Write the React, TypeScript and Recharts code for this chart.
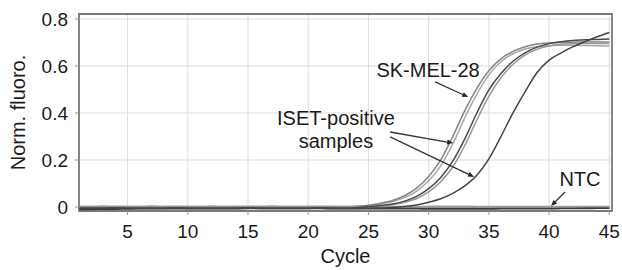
import React from 'react';
import { LineChart, Line, XAxis, YAxis, CartesianGrid, ReferenceLine, ReferenceDot, ReferenceArea, Label } from 'recharts';

const cycles = [1,2,3,4,5,6,7,8,9,10,11,12,13,14,15,16,17,18,19,20,21,22,23,24,25,26,27,28,29,30,31,32,33,34,35,36,37,38,39,40,41,42,43,44,45];

const skMel1 = [0.002,0.002,0.003,0.002,0.002,0.002,0.003,0.002,0.002,0.002,0.002,0.003,0.002,0.002,0.002,0.002,0.003,0.002,0.002,0.002,0.002,0.002,0.002,
  0.003,0.008,0.016,0.028,0.048,0.08,0.13,0.2,0.3,0.41,0.505,0.58,0.63,0.662,0.682,0.693,0.698,0.7,0.701,0.702,0.702,0.702];
const skMel2 = [-0.002,-0.002,-0.001,-0.002,-0.002,-0.002,-0.001,-0.002,-0.002,-0.002,-0.002,-0.001,-0.002,-0.002,-0.002,-0.002,-0.001,-0.002,-0.002,-0.002,-0.002,-0.002,-0.001,
  0.002,0.006,0.013,0.023,0.04,0.068,0.112,0.175,0.268,0.38,0.48,0.562,0.618,0.652,0.672,0.682,0.686,0.688,0.688,0.687,0.686,0.685];
const isetA1 = [-0.004,-0.004,-0.004,-0.003,-0.004,-0.004,-0.004,-0.004,-0.003,-0.004,-0.004,-0.004,-0.004,-0.004,-0.003,-0.004,-0.004,-0.004,-0.004,-0.004,-0.003,-0.004,-0.004,-0.003,
  0.002,0.006,0.013,0.025,0.045,0.078,0.126,0.195,0.29,0.4,0.498,0.568,0.62,0.656,0.68,0.695,0.703,0.708,0.711,0.713,0.715];
const isetA2 = [0,0,0.001,0,0,0,0,0.001,0,0,0,0,0.001,0,0,0,0,0,0.001,0,0,0,0,0,
  0.001,0.004,0.01,0.02,0.036,0.064,0.108,0.17,0.262,0.37,0.472,0.55,0.607,0.646,0.671,0.685,0.692,0.695,0.696,0.696,0.695];
const isetB = [-0.006,-0.006,-0.006,-0.005,-0.006,-0.006,-0.006,-0.006,-0.005,-0.006,-0.006,-0.006,-0.006,-0.006,-0.005,-0.006,-0.006,-0.006,-0.006,-0.006,-0.005,-0.006,-0.006,-0.006,-0.005,-0.004,-0.002,
  0.002,0.009,0.02,0.035,0.058,0.09,0.135,0.205,0.3,0.4,0.49,0.572,0.625,0.656,0.682,0.704,0.724,0.742];
const ntc1 = [-0.009,-0.009,-0.008,-0.008,-0.007,-0.006,-0.006,-0.006,-0.006,-0.006,-0.006,-0.006,-0.006,-0.006,-0.005,-0.005,-0.005,-0.005,-0.005,-0.005,-0.005,-0.006,-0.006,-0.006,-0.006,-0.006,-0.006,-0.006,-0.006,-0.007,-0.007,-0.007,-0.007,-0.007,-0.007,-0.006,-0.006,-0.006,-0.006,-0.006,-0.005,-0.005,-0.005,-0.004,-0.004];
const ntc2 = [0.001,0.001,0.001,0.001,0.001,0.001,0.001,0.001,0.001,0.001,0.001,0.001,0.001,0.001,0.001,0.001,0.001,0.001,0.001,0.001,0.001,0.001,0.001,0.001,0.001,0.001,0.001,0.001,0.002,0.002,0.003,0.003,0.003,0.002,0.002,0.001,0.001,0.001,0.001,0.001,0.001,0.001,0.002,0.002,0.002];

const xTicks = [5,10,15,20,25,30,35,40,45];
const yTicks = [0,0.2,0.4,0.6,0.8];
const xDomain = [0.97, 45.22];
const yDomain = [-0.017, 0.821];

// annotation arrows [fromCycle, fromValue, toCycle, toValue]
const arrows = [
  [30.54, 0.532, 33.28, 0.468],
  [26.8, 0.319, 32.03, 0.272],
  [26.8, 0.298, 33.77, 0.128],
  [41.32, 0.064, 40.16, 0.004],
];
// annotation texts [text, cycle, value(baseline)]
const notes: [string, number, number][] = [
  ['SK-MEL-28', 29.95, 0.553],
  ['ISET-positive', 22.3, 0.349],
  ['samples', 22.3, 0.251],
  ['NTC', 42.56, 0.089],
];

const data = cycles.map((c, i) => ({
  cycle: c,
  skMel1: skMel1[i], skMel2: skMel2[i], isetA1: isetA1[i], isetA2: isetA2[i], isetB: isetB[i], ntc1: ntc1[i], ntc2: ntc2[i],
}));

const FONT = '"Liberation Sans", Arial, Helvetica, sans-serif';

const ArrowShape = (props: any) => {
  const { x1, y1, x2, y2 } = props;
  if ([x1, y1, x2, y2].some((v) => typeof v !== 'number' || isNaN(v))) return null;
  const ang = Math.atan2(y2 - y1, x2 - x1);
  const L = 6, W = 2.5;
  const bx = x2 - L * Math.cos(ang), by = y2 - L * Math.sin(ang);
  const px = -Math.sin(ang) * W, py = Math.cos(ang) * W;
  return (
    <g>
      <line x1={x1} y1={y1} x2={bx} y2={by} stroke="#333" strokeWidth={1.3} />
      <polygon points={`${x2},${y2} ${bx + px},${by + py} ${bx - px},${by - py}`} fill="#222" />
    </g>
  );
};

const makeText = (t: string) => (props: any) => (
  <text x={props.cx} y={props.cy} textAnchor="middle" fontFamily={FONT} fontSize={20} fill="#1a1a1a">{t}</text>
);

export default function App() {
  return (
    <div style={{ width: 614, height: 262, padding: '8px 0 0 8px', overflow: 'visible' }}>
      <style>{'html,body{margin:0;padding:0;overflow:hidden}'}</style>
      <LineChart width={614} height={262} data={data} margin={{ top: 6, right: 10, bottom: 0, left: 0 }}>
        <CartesianGrid stroke="#dcdcdc" strokeWidth={1} vertical horizontal />
        <XAxis dataKey="cycle" type="number" domain={xDomain} ticks={xTicks} allowDataOverflow height={59}
          tick={{ fontSize: 19, fill: '#1a1a1a', fontFamily: FONT }} tickSize={4} tickMargin={10}
          tickLine={{ stroke: '#999' }} axisLine={false}>
          <Label value="Cycle" position="insideBottom" offset={7} style={{ fontSize: 20, fill: '#1a1a1a', fontFamily: FONT }} />
        </XAxis>
        <YAxis type="number" domain={yDomain} ticks={yTicks} allowDataOverflow width={71}
          tick={{ fontSize: 19, fill: '#1a1a1a', fontFamily: FONT }} tickSize={4} tickMargin={7}
          tickLine={{ stroke: '#999' }} axisLine={false}
          tickFormatter={(v: number) => (v === 0 ? '0' : v.toFixed(1))}>
          <Label content={(p: any) => {
            const vb = p.viewBox || { x: 0, y: 6, width: 71, height: 197 };
            const cx = vb.x + 17;
            const cy = vb.y + vb.height / 2;
            return (
              <text x={cx} y={cy} transform={`rotate(-90 ${cx} ${cy})`} textAnchor="middle" fontFamily={FONT} fontSize={20} fill="#1a1a1a">Norm. fluoro.</text>
            );
          }} />
        </YAxis>
        <Line dataKey="ntc1" stroke="#3a3a3a" strokeWidth={2.2} dot={false} isAnimationActive={false} type="monotone" />
        <Line dataKey="ntc2" stroke="#9a9a9a" strokeWidth={1.8} dot={false} isAnimationActive={false} type="monotone" />
        <Line dataKey="skMel2" stroke="#a8a8a8" strokeWidth={1.5} dot={false} isAnimationActive={false} type="monotone" />
        <Line dataKey="skMel1" stroke="#858585" strokeWidth={1.5} dot={false} isAnimationActive={false} type="monotone" />
        <Line dataKey="isetA2" stroke="#9a9a9a" strokeWidth={1.5} dot={false} isAnimationActive={false} type="monotone" />
        <Line dataKey="isetA1" stroke="#4a4a4a" strokeWidth={1.5} dot={false} isAnimationActive={false} type="monotone" />
        <Line dataKey="isetB" stroke="#444" strokeWidth={1.5} dot={false} isAnimationActive={false} type="monotone" />
        <ReferenceArea x1={xDomain[0]} x2={xDomain[1]} y1={yDomain[0]} y2={yDomain[1]} fill="none" stroke="#7a7a7a" strokeWidth={1.8} ifOverflow="visible" />
        {arrows.map((a, i) => (
          <ReferenceLine key={'a' + i} segment={[{ x: a[0], y: a[1] }, { x: a[2], y: a[3] }]} ifOverflow="visible" shape={ArrowShape} />
        ))}
        {notes.map((n, i) => (
          <ReferenceDot key={'n' + i} x={n[1]} y={n[2]} r={0} ifOverflow="visible" shape={makeText(n[0])} />
        ))}
      </LineChart>
    </div>
  );
}
